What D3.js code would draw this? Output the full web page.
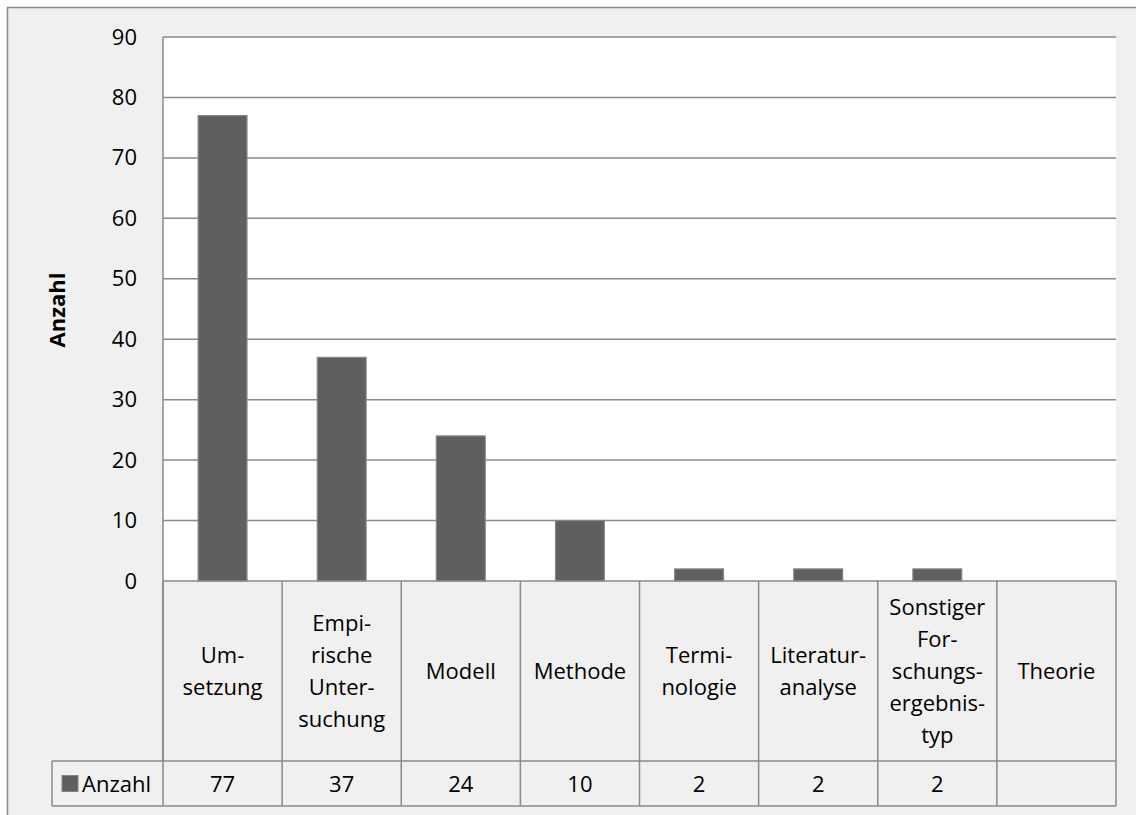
<!DOCTYPE html>
<html>
<head>
<meta charset="utf-8">
<script src="https://cdn.jsdelivr.net/npm/d3@7"></script>
<style>
  html, body { margin: 0; padding: 0; background: #ffffff; }
  svg { display: block; }
  text { font-family: "Open Sans", "Noto Sans", sans-serif; fill: #000; }
</style>
</head>
<body>
<svg id="chart" width="1136" height="815"></svg>
<script>
// Category labels (with the hyphenated line breaks used in the table)
const categories = [
  "Umsetzung", "Empirische Untersuchung", "Modell", "Methode",
  "Terminologie", "Literaturanalyse", "Sonstiger Forschungsergebnistyp", "Theorie"
];
const categoryLines = [
  ["Um-", "setzung"],
  ["Empi-", "rische", "Unter-", "suchung"],
  ["Modell"],
  ["Methode"],
  ["Termi-", "nologie"],
  ["Literatur-", "analyse"],
  ["Sonstiger", "For-", "schungs-", "ergebnis-", "typ"],
  ["Theorie"]
];
const counts = [77, 37, 24, 10, 2, 2, 2, null];
const seriesName = "Anzahl";
const yTicks = [0, 10, 20, 30, 40, 50, 60, 70, 80, 90];

const svg = d3.select("#chart");
const plot = { left: 163, right: 1116, top: 37, bottom: 581 };
const table = { catBottom: 761, valBottom: 806, legendLeft: 52 };
const lineColor = "#8a8a8a";
const barFill = "#5f5f5f";
const fontSize = "22px";

// chart area background and frame
svg.append("rect")
  .attr("x", 7.5).attr("y", 7.5)
  .attr("width", 1140).attr("height", 820)
  .attr("fill", "#f0f0f0")
  .attr("stroke", lineColor).attr("stroke-width", 1.5);

svg.append("rect")
  .attr("x", plot.left).attr("y", plot.top)
  .attr("width", plot.right - plot.left).attr("height", plot.bottom - plot.top)
  .attr("fill", "#ffffff");

const x = d3.scaleBand().domain(categories).range([plot.left, plot.right]).padding(0);
const y = d3.scaleLinear().domain([0, 90]).range([plot.bottom, plot.top]);

// horizontal gridlines
svg.append("g").selectAll("line").data(yTicks.filter(d => d > 0)).join("line")
  .attr("x1", plot.left).attr("x2", plot.right)
  .attr("y1", d => y(d)).attr("y2", d => y(d))
  .attr("stroke", lineColor).attr("stroke-width", 1.5);

// y axis tick labels
const yAxis = d3.axisLeft(y).tickValues(yTicks).tickSize(0).tickPadding(26);
const yg = svg.append("g").attr("transform", `translate(${plot.left},0)`).call(yAxis);
yg.select(".domain").remove();
yg.selectAll("text")
  .style("font-family", "'Open Sans', sans-serif")
  .style("font-size", fontSize)
  .attr("fill", "#000");

// axis line on the left
svg.append("line")
  .attr("x1", plot.left).attr("x2", plot.left)
  .attr("y1", plot.top).attr("y2", table.catBottom)
  .attr("stroke", lineColor).attr("stroke-width", 1.5);

// y-axis title
svg.append("text")
  .attr("transform", `translate(${65},${310}) rotate(-90)`)
  .attr("text-anchor", "middle")
  .style("font-size", "22px").style("font-weight", "bold")
  .text(seriesName);

// bars
const barW = x.bandwidth() * 0.41;
svg.append("g").selectAll("rect")
  .data(categories.map((c, i) => ({ c, v: counts[i] })).filter(d => d.v != null))
  .join("rect")
  .attr("x", d => x(d.c) + x.bandwidth() / 2 - barW / 2)
  .attr("y", d => y(d.v))
  .attr("width", barW)
  .attr("height", d => y(0) - y(d.v))
  .attr("fill", barFill)
  .attr("stroke", "#858585").attr("stroke-width", 1.2);

// data table grid
const tg = svg.append("g").attr("stroke", lineColor).attr("stroke-width", 1.5);
tg.append("line").attr("x1", plot.left).attr("x2", plot.right).attr("y1", plot.bottom).attr("y2", plot.bottom);
tg.append("line").attr("x1", table.legendLeft).attr("x2", plot.right).attr("y1", table.catBottom).attr("y2", table.catBottom);
tg.append("line").attr("x1", table.legendLeft).attr("x2", plot.right).attr("y1", table.valBottom).attr("y2", table.valBottom);
tg.append("line").attr("x1", table.legendLeft).attr("x2", table.legendLeft).attr("y1", table.catBottom).attr("y2", table.valBottom);
tg.append("line").attr("x1", plot.left).attr("x2", plot.left).attr("y1", plot.bottom).attr("y2", table.valBottom);
tg.selectAll("line.sep").data(categories).join("line").attr("class", "sep")
  .attr("x1", d => x(d) + x.bandwidth()).attr("x2", d => x(d) + x.bandwidth())
  .attr("y1", plot.bottom).attr("y2", table.valBottom);

// category labels
const lineH = 32;
const catMid = (plot.bottom + table.catBottom) / 2;
categories.forEach((c, i) => {
  const lines = categoryLines[i];
  const t = svg.append("text")
    .attr("text-anchor", "middle")
    .style("font-size", fontSize);
  lines.forEach((ln, j) => {
    t.append("tspan")
      .attr("x", x(c) + x.bandwidth() / 2)
      .attr("y", catMid + (j - (lines.length - 1) / 2) * lineH + 8)
      .text(ln);
  });
});

// value row
const valMid = (table.catBottom + table.valBottom) / 2;
svg.append("g").selectAll("text")
  .data(categories.map((c, i) => ({ c, v: counts[i] })).filter(d => d.v != null))
  .join("text")
  .attr("x", d => x(d.c) + x.bandwidth() / 2)
  .attr("y", valMid + 8)
  .attr("text-anchor", "middle")
  .style("font-size", fontSize)
  .text(d => d.v);

// legend key inside the table
svg.append("rect")
  .attr("x", 62).attr("y", valMid - 8)
  .attr("width", 16).attr("height", 16)
  .attr("fill", barFill).attr("stroke", "#858585").attr("stroke-width", 1);
svg.append("text")
  .attr("x", 82).attr("y", valMid + 8)
  .style("font-size", fontSize)
  .text(seriesName);
</script>
</body>
</html>
